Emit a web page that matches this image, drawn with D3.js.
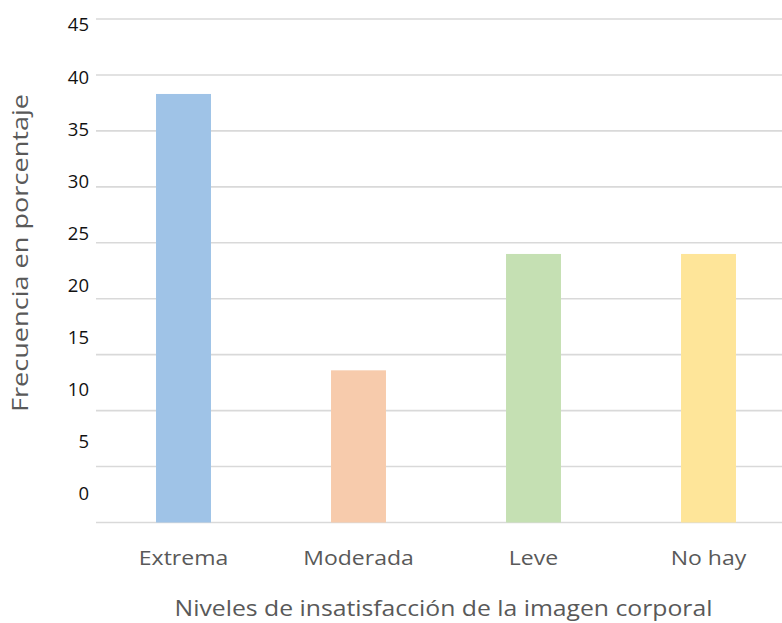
<!DOCTYPE html>
<html>
<head>
<meta charset="utf-8">
<script src="https://cdn.jsdelivr.net/npm/d3@7"></script>
<style>
html, body { margin: 0; padding: 0; background: #fff; }
svg { display: block; }
</style>
</head>
<body>
<svg id="chart" width="782" height="623"></svg>
<script>
const categories = ["Extrema", "Moderada", "Leve", "No hay"];
const values = [38.3, 13.6, 24.0, 24.0];
const colors = ["#9fc3e7", "#f7cbac", "#c5e0b3", "#fee599"];
const tickValues = [0, 5, 10, 15, 20, 25, 30, 35, 40, 45];
const yTitle = "Frecuencia en porcentaje";
const xTitle = "Niveles de insatisfacción de la imagen corporal";

const svg = d3.select("#chart");
const font = "'Open Sans', sans-serif";

const x = d3.scaleBand().domain(categories).range([96, 796]).paddingInner(0.686).paddingOuter(0.343);
const y = d3.scaleLinear().domain([0, 45]).range([522.5, 19]);
// tick labels sit on their own (slightly compressed) positions in the reference
const yLab = d3.scaleLinear().domain([0, 45]).range([493.5, 25]);

// gridlines
svg.append("g").selectAll("line").data(tickValues).join("line")
  .attr("x1", 96).attr("x2", 782)
  .attr("y1", d => y(d)).attr("y2", d => y(d))
  .attr("stroke", "#d9d9d9").attr("stroke-width", 1.6);

// bars
svg.append("g").selectAll("rect").data(values).join("rect")
  .attr("x", (d, i) => x(categories[i]))
  .attr("width", x.bandwidth())
  .attr("y", d => y(d))
  .attr("height", d => y(0) - y(d))
  .attr("fill", (d, i) => colors[i]);

// y tick labels
svg.append("g").selectAll("text").data(tickValues).join("text")
  .attr("x", 89).attr("y", d => yLab(d))
  .attr("dy", "0.35em")
  .attr("text-anchor", "end")
  .attr("font-family", font).attr("font-size", 18.5)
  .attr("fill", "#111")
  .text(d => d);

// x category labels (reference glyphs are horizontally wider)
svg.append("g").selectAll("text").data(categories).join("text")
  .attr("transform", d => `translate(${x(d) + x.bandwidth() / 2},564.5) scale(1.15,1)`)
  .attr("text-anchor", "middle")
  .attr("font-family", font).attr("font-size", 20)
  .attr("fill", "#595959")
  .text(d => d);

// axis titles
svg.append("text")
  .attr("transform", "translate(443.5,616) scale(1.1,1)")
  .attr("text-anchor", "middle")
  .attr("font-family", font).attr("font-size", 22.5)
  .attr("fill", "#595959")
  .text(xTitle);

svg.append("text")
  .attr("transform", "translate(27.5,253) rotate(-90) scale(1.21,1)")
  .attr("text-anchor", "middle")
  .attr("font-family", font).attr("font-size", 22.4)
  .attr("fill", "#595959")
  .text(yTitle);
</script>
</body>
</html>
